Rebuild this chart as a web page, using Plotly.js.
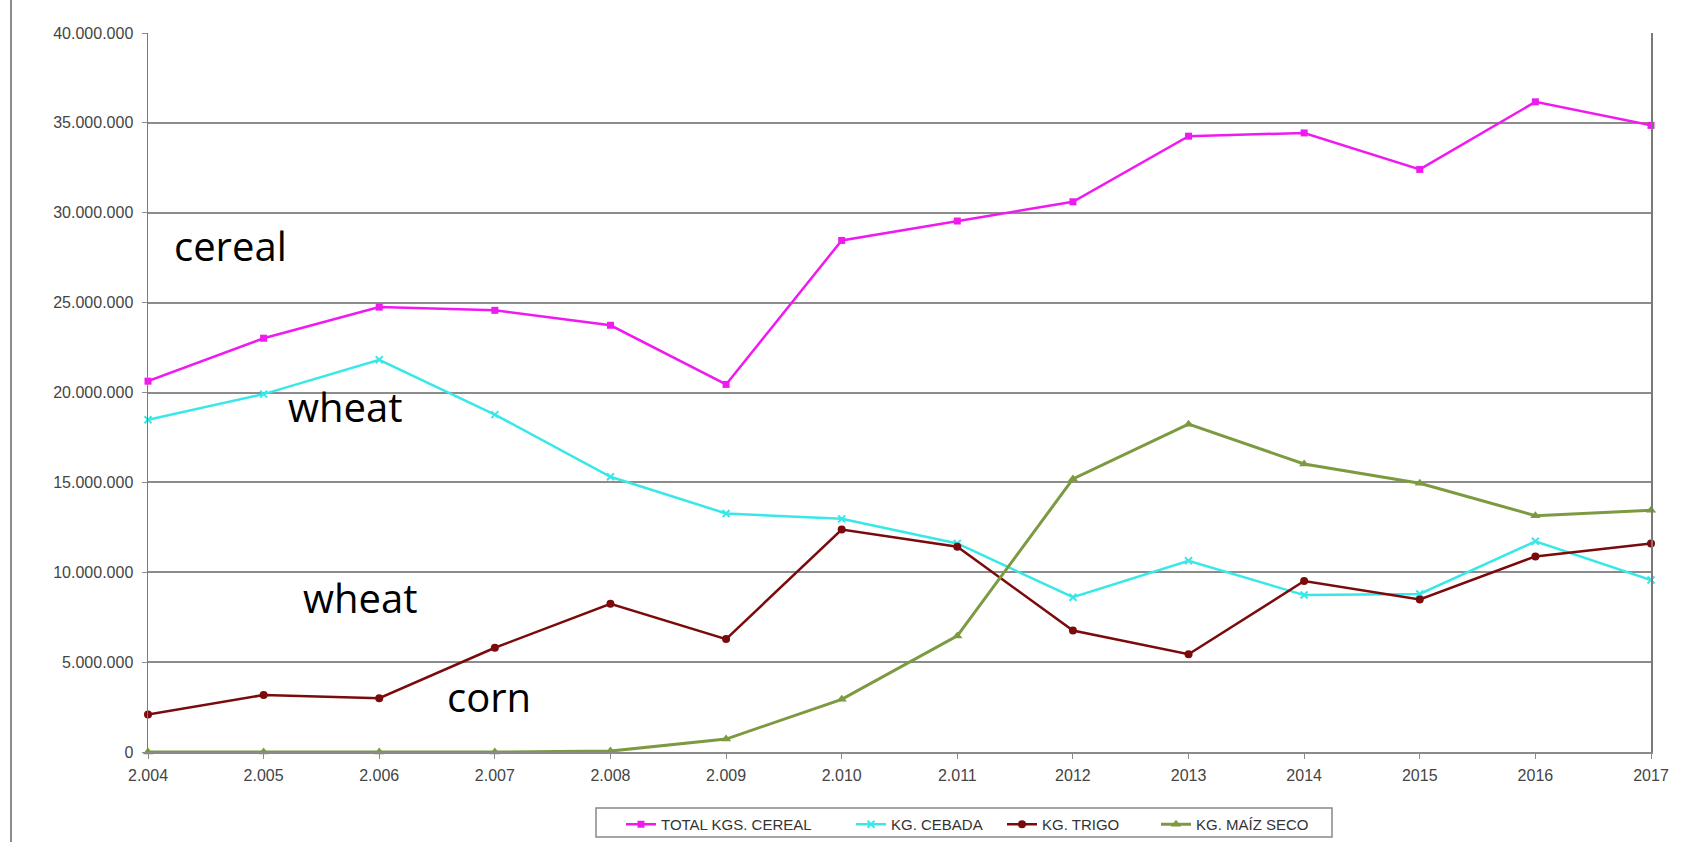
<!DOCTYPE html>
<html>
<head>
<meta charset="utf-8">
<script src="https://cdn.plot.ly/plotly-3.0.1.min.js"></script>
<style>
  html, body { margin: 0; padding: 0; background: #fff; }
  #chart { width: 1685px; height: 844px; }
</style>
</head>
<body>
<div id="chart"></div>
<script>
// ---- data ----
const years = [2004, 2005, 2006, 2007, 2008, 2009, 2010, 2011, 2012, 2013, 2014, 2015, 2016, 2017];
const yearLabels = ["2.004", "2.005", "2.006", "2.007", "2.008", "2.009", "2.010", "2.011", "2012", "2013", "2014", "2015", "2016", "2017"];
const seriesNames = ["TOTAL KGS. CEREAL", "KG. CEBADA", "KG. TRIGO", "KG. MAÍZ SECO"];
const totalCereal = [20630000, 23020000, 24750000, 24570000, 23740000, 20450000, 28460000, 29540000, 30610000, 34260000, 34440000, 32410000, 36170000, 34860000];
const cebada      = [18480000, 19910000, 21820000, 18770000, 15310000, 13270000, 12970000, 11600000, 8610000, 10640000, 8730000, 8790000, 11720000, 9570000];
const trigo       = [2090000, 3170000, 2990000, 5800000, 8250000, 6280000, 12380000, 11420000, 6760000, 5440000, 9510000, 8490000, 10880000, 11600000];
const maizSeco    = [0, 0, 0, 0, 50000, 720000, 2930000, 6460000, 15190000, 18240000, 16020000, 14950000, 13150000, 13450000];
const overlayLabels = ["cereal", "wheat", "wheat", "corn"];

// ---- layout geometry (px) ----
const W = 1685, H = 844;
const L = 148, R = 34, T = 33, B = 92;
const pw = W - L - R, ph = H - T - B;
const px = x => (x - L) / pw;
const py = y => (H - B - y) / ph;

const colors = ["#f01af0", "#38e8e8", "#7a0a0c", "#7c9a40"];
const symbols = ["square", "x-thin", "circle", "triangle-up"];
const sizes = [7, 7, 8, 9];
const series = [totalCereal, cebada, trigo, maizSeco];
const legendIds = ["legend", "legend2", "legend3", "legend4"];
const legendLineStart = [626, 856, 1007, 1161];

const traces = series.map((vals, i) => ({
  type: "scatter",
  mode: "lines+markers",
  x: years,
  y: vals,
  name: seriesNames[i],
  legend: legendIds[i],
  line: { color: colors[i], width: i === 3 ? 3 : 2.5 },
  marker: {
    symbol: symbols[i],
    size: sizes[i],
    color: colors[i],
    line: { color: colors[i], width: i === 1 ? 2 : 0 }
  },
  cliponaxis: false
}));

const overlayPos = [[172, 245], [286, 406], [301, 597], [445, 696]];
const annotations = overlayLabels.map((t, i) => ({
  text: t,
  xref: "paper", yref: "paper",
  x: px(overlayPos[i][0]), y: py(overlayPos[i][1]),
  xanchor: "left", yanchor: "middle",
  showarrow: false,
  font: { family: "Open Sans, Noto Sans, sans-serif", size: 40, color: "#000" }
}));

const tickFont = { family: "Liberation Sans, Arial, sans-serif", size: 16, color: "#444" };

const layout = {
  width: W, height: H,
  margin: { l: L, r: R, t: T, b: B, pad: 0, autoexpand: false },
  paper_bgcolor: "#fff",
  plot_bgcolor: "#fff",
  separators: ",.",
  showlegend: true,
  font: { family: "Liberation Sans, Arial, sans-serif", size: 15, color: "#444" },
  xaxis: {
    range: [2004, 2017],
    tickvals: years,
    ticktext: yearLabels,
    showgrid: false,
    zeroline: false,
    showline: true,
    linecolor: "#8a8a8a",
    linewidth: 2,
    mirror: false,
    ticks: "outside",
    ticklen: 5,
    tickcolor: "#8a8a8a",
    ticklabelstandoff: 3,
    tickfont: tickFont
  },
  yaxis: {
    range: [0, 40000000],
    dtick: 5000000,
    tick0: 0,
    tickformat: ",d",
    showgrid: true,
    gridcolor: "#8c8c8c",
    gridwidth: 2,
    zeroline: false,
    showline: true,
    linecolor: "#7a7a7a",
    linewidth: 1.5,
    mirror: true,
    ticks: "outside",
    ticklen: 5,
    tickcolor: "#8c8c8c",
    ticklabelstandoff: 5,
    tickfont: tickFont
  },
  annotations: annotations,
  shapes: [
    {
      type: "line", xref: "paper", yref: "paper",
      x0: px(11), x1: px(11), y0: py(H - 2), y1: py(0),
      line: { color: "#666", width: 1.5 }
    },
    {
      type: "rect", xref: "paper", yref: "paper",
      x0: px(596), x1: px(1332), y0: py(837), y1: py(808),
      fillcolor: "rgba(0,0,0,0)",
      line: { color: "#888", width: 1.5 }
    }
  ]
};

legendIds.forEach((id, i) => {
  layout[id] = {
    orientation: "h",
    x: px(legendLineStart[i] - 5), xanchor: "left",
    y: py(808), yanchor: "top",
    bgcolor: "rgba(0,0,0,0)",
    borderwidth: 0,
    font: { family: "Liberation Sans, Arial, sans-serif", size: 15, color: "#333" },
    itemwidth: 30
  };
});

Plotly.newPlot("chart", traces, layout, { displayModeBar: false, staticPlot: true });
</script>
</body>
</html>
